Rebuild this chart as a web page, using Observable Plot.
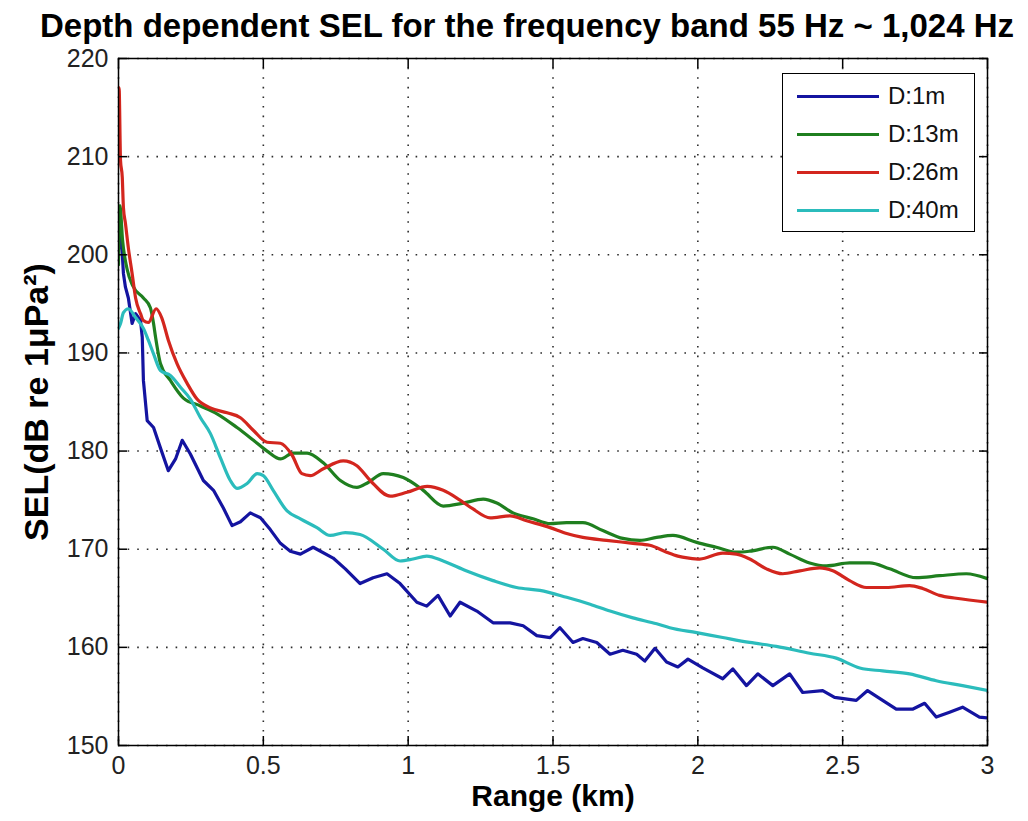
<!DOCTYPE html>
<html>
<head>
<meta charset="utf-8">
<script src="https://cdn.jsdelivr.net/npm/d3@7"></script>
<script src="https://cdn.jsdelivr.net/npm/@observablehq/plot@0.6"></script>
<style>
  html, body { margin: 0; padding: 0; background: #fff; }
  #wrap { position: relative; width: 1028px; height: 821px; font-family: "Liberation Sans", Arial, sans-serif; }
  #title { box-sizing: border-box; height: 50px; padding-top: 9px; padding-left: 26px; text-align: center; font-weight: bold; font-size: 33px; line-height: 1; white-space: nowrap; color: #000; }
  #legend { position: absolute; left: 782px; top: 73px; width: 193px; height: 159px; box-sizing: border-box; border: 1.5px solid #000; background: #fff; }
  .row { position: absolute; left: 14px; height: 30px; display: flex; align-items: center; font-size: 24px; color: #111; }
  .sw { width: 82px; height: 3px; margin-right: 9px; }
</style>
</head>
<body>
<div id="wrap">
  <div id="title">Depth dependent SEL for the frequency band 55 Hz ~ 1,024 Hz</div>
  <div id="chart"></div>
  <div id="legend"></div>
</div>
<script>
// ---- Data (range in km, SEL in dB re 1 µPa²) ----
const seriesNames = ["D:1m", "D:13m", "D:26m", "D:40m"];
const seriesColors = ["#1414a0", "#1f7f1f", "#d3261e", "#2bbcbc"];
const xTicks = [0, 0.5, 1, 1.5, 2, 2.5, 3];
const yTicks = [150, 160, 170, 180, 190, 200, 210, 220];
const xLabel = "Range (km)";
const yLabel = "SEL(dB re 1μPa²)";

const d1m = [
  [0, 200.5], [0.005, 203.0], [0.013, 200.1], [0.017, 198.1], [0.024, 196.7], [0.034, 195.6],
  [0.047, 193.0], [0.059, 194.0], [0.076, 193.3], [0.082, 191.6], [0.086, 187.2], [0.099, 183.1],
  [0.121, 182.4], [0.145, 180.3], [0.172, 178.0], [0.197, 179.2], [0.220, 181.1], [0.248, 179.7],
  [0.293, 177.0], [0.328, 176.0], [0.362, 174.2], [0.392, 172.4], [0.421, 172.8], [0.455, 173.7],
  [0.490, 173.2], [0.524, 172.0], [0.559, 170.6], [0.593, 169.8], [0.628, 169.5], [0.672, 170.2],
  [0.741, 169.1], [0.783, 168.0], [0.834, 166.5], [0.879, 167.1], [0.927, 167.5], [0.972, 166.5],
  [1.030, 164.6], [1.064, 164.2], [1.103, 165.3], [1.145, 163.2], [1.179, 164.6], [1.237, 163.7],
  [1.293, 162.5], [1.352, 162.5], [1.397, 162.2], [1.444, 161.2], [1.490, 161.0], [1.524, 162.0],
  [1.569, 160.5], [1.603, 160.9], [1.651, 160.5], [1.697, 159.3], [1.741, 159.7], [1.789, 159.3],
  [1.817, 158.6], [1.852, 159.9], [1.892, 158.5], [1.931, 158.0], [1.966, 158.8], [2.017, 157.9],
  [2.086, 156.8], [2.121, 157.8], [2.168, 156.1], [2.207, 157.3], [2.259, 156.1], [2.317, 157.3],
  [2.362, 155.4], [2.431, 155.6], [2.472, 154.9], [2.547, 154.6], [2.586, 155.6], [2.638, 154.6],
  [2.685, 153.7], [2.741, 153.7], [2.783, 154.3], [2.823, 152.9], [2.869, 153.4], [2.914, 153.9],
  [2.972, 152.9], [3.0, 152.8]
];

const d13m = [
  [0, 199.0], [0.005, 205.0], [0.014, 201.5], [0.030, 198.5], [0.050, 196.8], [0.086, 195.6],
  [0.110, 194.6], [0.121, 193.0], [0.128, 191.6], [0.145, 188.9], [0.179, 187.2], [0.224, 185.4],
  [0.283, 184.6], [0.340, 183.8], [0.409, 182.4], [0.466, 181.1], [0.513, 180.0], [0.559, 179.2],
  [0.603, 179.8], [0.651, 179.8], [0.707, 178.8], [0.766, 177.0], [0.823, 176.3], [0.862, 176.8],
  [0.914, 177.7], [0.983, 177.3], [1.052, 176.0], [1.121, 174.4], [1.190, 174.7], [1.259, 175.1],
  [1.306, 174.7], [1.362, 173.7], [1.431, 173.1], [1.490, 172.6], [1.547, 172.7], [1.603, 172.7],
  [1.672, 171.9], [1.741, 171.1], [1.800, 170.9], [1.858, 171.2], [1.914, 171.4], [1.996, 170.7],
  [2.064, 170.2], [2.133, 169.7], [2.179, 169.8], [2.259, 170.2], [2.317, 169.5], [2.386, 168.6],
  [2.444, 168.3], [2.524, 168.6], [2.593, 168.6], [2.662, 168.0], [2.754, 167.1], [2.834, 167.3],
  [2.927, 167.5], [3.0, 167.0]
];

const d26m = [
  [0, 212.0], [0.002, 217.0], [0.007, 209.6], [0.013, 207.9], [0.017, 204.8], [0.024, 203.2],
  [0.034, 200.7], [0.047, 198.1], [0.059, 195.6], [0.076, 194.0], [0.086, 193.3], [0.103, 193.1],
  [0.130, 194.5], [0.149, 193.6], [0.172, 191.3], [0.202, 188.9], [0.237, 186.9], [0.271, 185.3],
  [0.317, 184.4], [0.375, 183.9], [0.421, 183.4], [0.466, 182.1], [0.513, 180.9], [0.559, 180.8],
  [0.599, 179.6], [0.633, 177.7], [0.662, 177.5], [0.707, 178.2], [0.776, 179.0], [0.823, 178.5],
  [0.869, 177.0], [0.938, 175.4], [0.996, 175.8], [1.066, 176.4], [1.121, 176.0], [1.179, 175.0],
  [1.224, 174.1], [1.283, 173.2], [1.352, 173.4], [1.409, 172.9], [1.490, 172.2], [1.547, 171.6],
  [1.603, 171.2], [1.685, 170.9], [1.776, 170.6], [1.834, 170.4], [1.892, 169.7], [1.931, 169.3],
  [1.969, 169.1], [2.007, 169.0], [2.086, 169.6], [2.133, 169.5], [2.179, 169.0], [2.237, 168.0],
  [2.293, 167.5], [2.352, 167.8], [2.421, 168.1], [2.466, 167.8], [2.524, 166.8], [2.582, 166.1],
  [2.651, 166.1], [2.731, 166.3], [2.776, 166.0], [2.834, 165.3], [2.892, 165.0], [3.0, 164.6]
];

const d40m = [
  [0, 192.5], [0.007, 193.0], [0.017, 194.1], [0.034, 194.5], [0.059, 193.6], [0.086, 192.5],
  [0.103, 191.3], [0.121, 189.9], [0.145, 188.2], [0.179, 187.7], [0.214, 186.5], [0.248, 185.3],
  [0.283, 183.4], [0.317, 181.8], [0.352, 179.3], [0.386, 177.0], [0.409, 176.2], [0.444, 176.7],
  [0.479, 177.7], [0.500, 177.5], [0.534, 176.0], [0.582, 173.9], [0.628, 173.1], [0.685, 172.2],
  [0.731, 171.4], [0.783, 171.7], [0.834, 171.5], [0.914, 170.0], [0.972, 168.8], [1.017, 169.0],
  [1.064, 169.3], [1.121, 168.8], [1.200, 167.8], [1.293, 166.8], [1.374, 166.1], [1.455, 165.8],
  [1.547, 165.1], [1.628, 164.4], [1.697, 163.7], [1.776, 163.0], [1.858, 162.4], [1.903, 162.0],
  [1.996, 161.5], [2.086, 161.0], [2.179, 160.5], [2.271, 160.1], [2.386, 159.4], [2.478, 158.9],
  [2.559, 157.9], [2.638, 157.6], [2.731, 157.3], [2.823, 156.6], [2.914, 156.1], [3.0, 155.6]
];

const allSeries = [d1m, d13m, d26m, d40m];
const curves = ["linear", "monotone-x", "monotone-x", "monotone-x"];

const gridStyle = {stroke: "#222", strokeOpacity: 0.95, strokeWidth: 1.6, strokeDasharray: "1.6,8"};

const chart = Plot.plot({
  width: 1028,
  height: 771,
  marginTop: 8,
  marginBottom: 76,
  marginLeft: 118,
  marginRight: 41,
  x: {domain: [0, 3]},
  y: {domain: [150, 220]},
  style: {fontFamily: "'Liberation Sans', Arial, sans-serif", background: "#fff", color: "#000", overflow: "visible"},
  marks: [
    Plot.gridX(xTicks, gridStyle),
    Plot.gridY(yTicks, gridStyle),
    ...allSeries.map((s, i) => Plot.line(s, {
      x: d => d[0], y: d => d[1], stroke: seriesColors[i], strokeWidth: 3.2, curve: curves[i], clip: true
    })),
    Plot.frame({stroke: "#000", strokeWidth: 1.5}),
    Plot.axisX(xTicks, {anchor: "bottom", tickSize: -9, fill: "none", label: null, strokeWidth: 1.5}),
    Plot.axisX(xTicks, {anchor: "top", tickSize: -9, fill: "none", label: null, strokeWidth: 1.5}),
    Plot.axisY(yTicks, {anchor: "left", tickSize: -9, fill: "none", label: null, strokeWidth: 1.5}),
    Plot.axisY(yTicks, {anchor: "right", tickSize: -9, fill: "none", label: null, strokeWidth: 1.5}),
    Plot.axisX(xTicks, {anchor: "bottom", tickSize: 0, tickPadding: 11, fontSize: 25, label: null, tickFormat: d => String(d), fill: "#222"}),
    Plot.axisY(yTicks, {anchor: "left", tickSize: 0, tickPadding: 10, fontSize: 25, label: null, tickFormat: d => String(d), fill: "#222"}),
    Plot.text([xLabel], {text: d => d, frameAnchor: "bottom", dy: 60, fontSize: 30, fontWeight: "bold", fill: "#000"}),
    Plot.text([yLabel], {text: d => d, frameAnchor: "left", textAnchor: "middle", dx: -81, rotate: -90, fontSize: 34, fontWeight: "bold", fill: "#000"})
  ]
});
document.getElementById("chart").appendChild(chart);

// Legend
const legend = document.getElementById("legend");
seriesNames.forEach((name, i) => {
  const row = document.createElement("div");
  row.className = "row";
  row.style.top = (7 + i * 38) + "px";
  const sw = document.createElement("div");
  sw.className = "sw";
  sw.style.background = seriesColors[i];
  const t = document.createElement("span");
  t.textContent = name;
  row.appendChild(sw);
  row.appendChild(t);
  legend.appendChild(row);
});
</script>
</body>
</html>
